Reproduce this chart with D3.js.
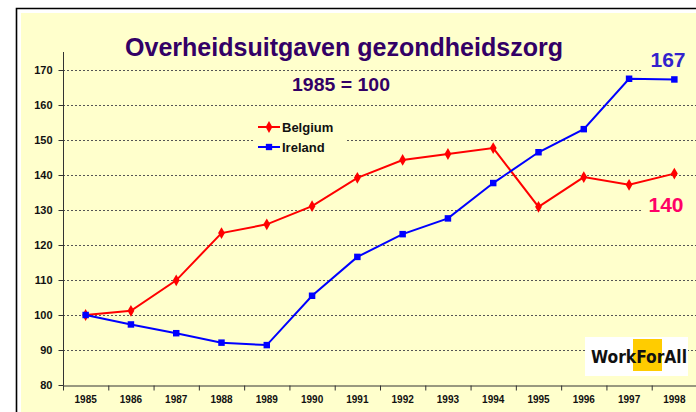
<!DOCTYPE html>
<html>
<head>
<meta charset="utf-8">
<script src="https://cdn.jsdelivr.net/npm/d3@7"></script>
<style>
  body { margin: 0; background: #fff; }
  svg { display: block; font-family: Arial, "Liberation Sans", sans-serif; }
</style>
</head>
<body>
<svg id="grafico" width="696" height="412"></svg>
<script>
const jaren = ["1985","1986","1987","1988","1989","1990","1991","1992","1993","1994","1995","1996","1997","1998"];
const belgium = [100, 101.2, 109.9, 123.4, 125.9, 131.1, 139.2, 144.3, 146.0, 147.7, 130.9, 139.4, 137.2, 140.4];
const ireland = [100, 97.3, 94.8, 92.1, 91.4, 105.5, 116.6, 123.1, 127.6, 137.7, 146.5, 153.1, 167.5, 167.3];
const yTicks = [80, 90, 100, 110, 120, 130, 140, 150, 160, 170];

const svg = d3.select("#grafico");

// frame and panel
svg.append("rect").attr("x", 21).attr("y", 13).attr("width", 680).attr("height", 405).attr("fill", "#ffffcc");
svg.append("path").attr("d", "M16.5,420 V8.5 H700").attr("fill", "none").attr("stroke", "#000").attr("stroke-width", 1.6);

const x = d3.scaleBand().domain(jaren).range([63, 697]);
const y = d3.scaleLinear().domain([80, 170]).range([385, 70]);

// grid
svg.append("g").selectAll("line")
  .data(yTicks.filter(d => d > 80))
  .join("line")
  .attr("x1", 63).attr("x2", 697)
  .attr("y1", d => y(d) + 0.5).attr("y2", d => y(d) + 0.5)
  .attr("stroke", "#555").attr("stroke-dasharray", "2,2").attr("stroke-width", 1);

// y axis
const yAxis = svg.append("g")
  .attr("transform", "translate(63.5,0)")
  .call(d3.axisLeft(y).tickValues(yTicks).tickSize(5).tickPadding(6));
yAxis.select(".domain").attr("d", "M0,52V385.5").attr("stroke", "#333");
yAxis.selectAll(".tick line").attr("stroke", "#333");
yAxis.selectAll("text").attr("font-size", 11).attr("font-weight", "bold").attr("fill", "#111")
  .attr("font-family", "Arial, 'Liberation Sans', sans-serif");

// x axis
const xAxis = svg.append("g")
  .attr("transform", "translate(0,385.5)")
  .call(d3.axisBottom(x).tickSize(0).tickPadding(10));
xAxis.select(".domain").attr("stroke", "#333");
xAxis.selectAll("text").attr("font-size", 10).attr("font-weight", "bold").attr("fill", "#111")
  .attr("font-family", "Arial, 'Liberation Sans', sans-serif");
xAxis.selectAll(".sep")
  .data(jaren)
  .join("line")
  .attr("class", "sep")
  .attr("x1", d => x(d) + 0.5).attr("x2", d => x(d) + 0.5)
  .attr("y1", 0).attr("y2", 5)
  .attr("stroke", "#333");

// label boxes covering gridlines
svg.append("rect").attr("x", 643).attr("y", 45).attr("width", 60).attr("height", 30).attr("fill", "#ffffcc");
svg.append("rect").attr("x", 643).attr("y", 188).attr("width", 60).attr("height", 30).attr("fill", "#ffffcc");
svg.append("rect").attr("x", 253).attr("y", 116).attr("width", 92).attr("height", 42).attr("fill", "#ffffcc");

const cx = d => x(d) + x.bandwidth() / 2;
const line = d3.line().x((d, i) => cx(jaren[i])).y(d => y(d));

const series = [
  { naam: "Belgium", data: belgium, kleur: "#ff0000", vorm: d3.symbolDiamond },
  { naam: "Ireland", data: ireland, kleur: "#0000ff", vorm: d3.symbolSquare }
];

series.forEach(s => {
  svg.append("path").datum(s.data).attr("d", line)
    .attr("fill", "none").attr("stroke", s.kleur).attr("stroke-width", 2);
  svg.append("g").selectAll("path")
    .data(s.data)
    .join("path")
    .attr("transform", (d, i) => `translate(${cx(jaren[i])},${y(d)})`)
    .attr("d", d3.symbol(s.vorm, s.vorm === d3.symbolSquare ? 42 : 40))
    .attr("fill", s.kleur);
});

// legend
const legend = svg.append("g").attr("transform", "translate(258,127)");
series.forEach((s, i) => {
  const g = legend.append("g").attr("transform", `translate(0,${i * 20})`);
  g.append("line").attr("x1", 0).attr("x2", 22).attr("stroke", s.kleur).attr("stroke-width", 2);
  g.append("path").attr("transform", "translate(11,0)").attr("d", d3.symbol(s.vorm, 40)).attr("fill", s.kleur);
  g.append("text").attr("x", 24).attr("y", 4.5).attr("font-size", 13).attr("font-weight", "bold")
    .attr("fill", "#111").text(s.naam);
});

// titles
svg.append("text").attr("x", 344).attr("y", 56).attr("text-anchor", "middle")
  .attr("font-size", 25).attr("font-weight", "bold").attr("fill", "#330066")
  .attr("textLength", 438).attr("lengthAdjust", "spacingAndGlyphs")
  .text("Overheidsuitgaven gezondheidszorg");
svg.append("text").attr("x", 341).attr("y", 91).attr("text-anchor", "middle")
  .attr("font-size", 19).attr("font-weight", "bold").attr("fill", "#330066")
  .attr("textLength", 98).attr("lengthAdjust", "spacingAndGlyphs")
  .text("1985 = 100");

svg.append("text").attr("x", 668).attr("y", 67).attr("text-anchor", "middle")
  .attr("font-size", 21).attr("font-weight", "bold").attr("fill", "#3322cc").text("167");
svg.append("text").attr("x", 666).attr("y", 212).attr("text-anchor", "middle")
  .attr("font-size", 21).attr("font-weight", "bold").attr("fill", "#ff0066").text("140");

// logo
const logo = svg.append("g");
logo.append("rect").attr("x", 585).attr("y", 337).attr("width", 103).attr("height", 39).attr("fill", "#fff");
logo.append("rect").attr("x", 633).attr("y", 339).attr("width", 29).attr("height", 32).attr("fill", "#ffcc00");
logo.append("text").attr("x", 591).attr("y", 363).attr("font-size", 18).attr("font-weight", "bold")
  .attr("font-family", "'Liberation Sans Narrow', 'DejaVu Sans Condensed', sans-serif")
  .attr("textLength", 96).attr("lengthAdjust", "spacingAndGlyphs")
  .attr("fill", "#111").text("WorkForAll");
</script>
</body>
</html>
